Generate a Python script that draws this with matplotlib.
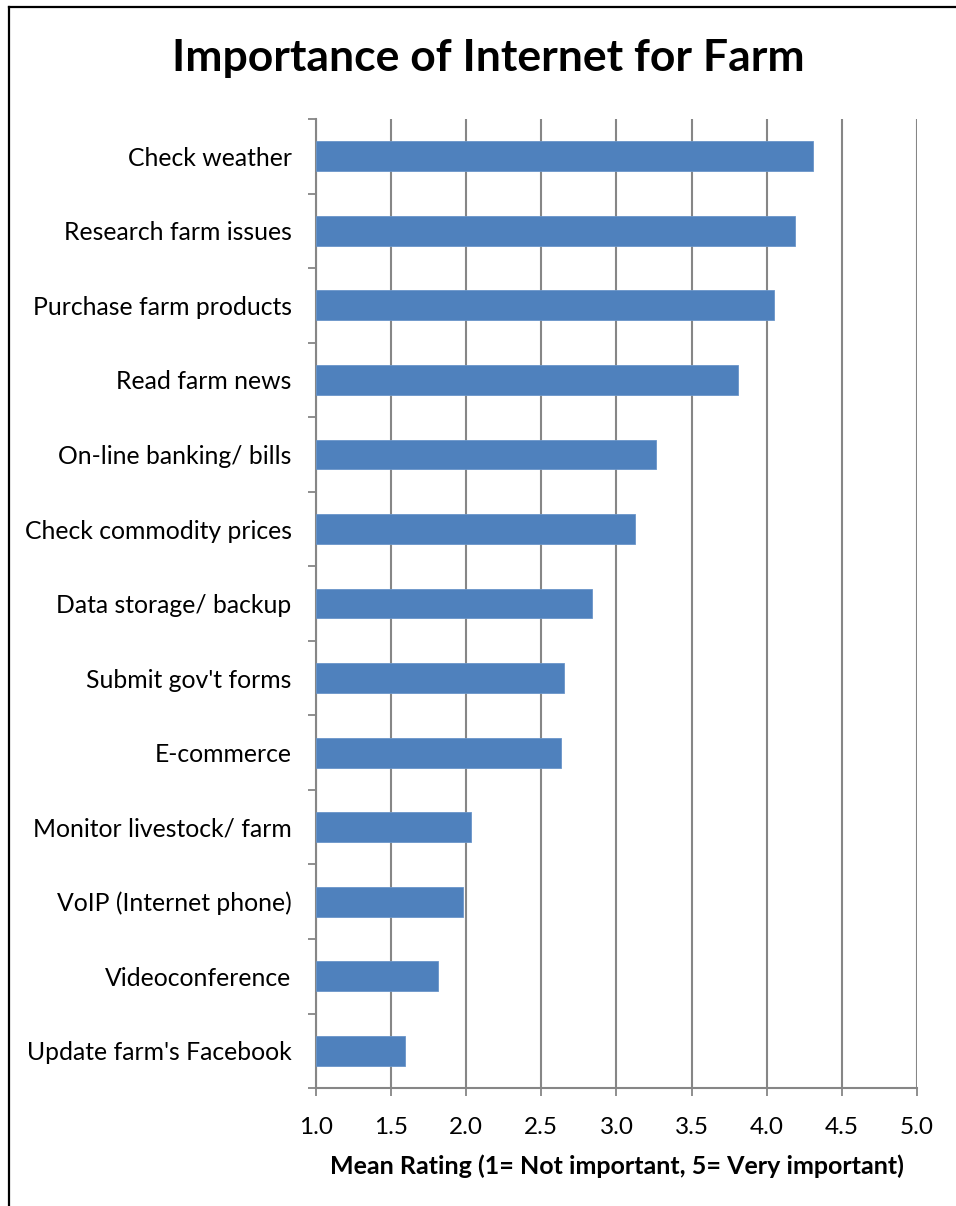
import matplotlib.pyplot as plt
import numpy as np
from matplotlib.lines import Line2D

# categories, top to bottom as shown
tasks = ["Check weather", "Research farm issues", "Purchase farm products",
         "Read farm news", "On-line banking/ bills", "Check commodity prices",
         "Data storage/ backup", "Submit gov't forms", "E-commerce",
         "Monitor livestock/ farm", "VoIP (Internet phone)", "Videoconference",
         "Update farm's Facebook"]
mean_rating = [4.31, 4.19, 4.05, 3.81, 3.26, 3.12, 2.84, 2.65, 2.63,
               2.03, 1.98, 1.81, 1.59]
x_ticks = [1.0, 1.5, 2.0, 2.5, 3.0, 3.5, 4.0, 4.5, 5.0]

plt.rcParams['font.family'] = ['Lato', 'DejaVu Sans']

fig = plt.figure(figsize=(9.56, 12.06), dpi=100)
ax = fig.add_axes([0.3305, 0.0978, 0.6287, 0.8035])

y = np.arange(len(tasks))
base = 1.0
ax.barh(y, np.array(mean_rating) - base, left=base, height=0.4,
        color="#4F81BD", edgecolor="#6A95C9", linewidth=0.6, zorder=3)

ax.set_xlim(1.0, 5.0)
ax.set_ylim(len(tasks) - 0.5, -0.5)
ax.set_xticks(x_ticks)
ax.set_xticklabels([f"{v:.1f}" for v in x_ticks], fontsize=17.5)
ax.set_yticks(y)
ax.set_yticklabels(tasks, fontsize=17.8)
ax.set_yticks(np.arange(len(tasks) + 1) - 0.5, minor=True)

ax.grid(axis="x", color="#868686", linewidth=1.5, zorder=0)
ax.tick_params(axis="y", which="major", length=0, pad=17.5)
ax.tick_params(axis="y", which="minor", length=6, width=1.3, color="#868686")
ax.tick_params(axis="x", length=6, width=1.3, color="#868686", pad=15)

for side in ["top", "right"]:
    ax.spines[side].set_visible(False)
for side in ["left", "bottom"]:
    ax.spines[side].set_color("#868686")
    ax.spines[side].set_linewidth(1.5)

ax.set_xlabel("Mean Rating (1= Not important, 5= Very important)",
              fontsize=18, fontweight="bold", labelpad=12)

fig.text(0.511, 0.952, "Importance of Internet for Farm", ha="center",
         va="center", fontsize=32, fontweight="bold")

# chart frame (only left and top edges are visible in the crop)
fig.add_artist(Line2D([0.0089, 0.0089], [0.0, 0.9942], color="black",
                      linewidth=1.6, transform=fig.transFigure))
fig.add_artist(Line2D([0.0089, 1.0], [0.9942, 0.9942], color="black",
                      linewidth=1.6, transform=fig.transFigure))

fig.savefig("out.png", dpi=100)
